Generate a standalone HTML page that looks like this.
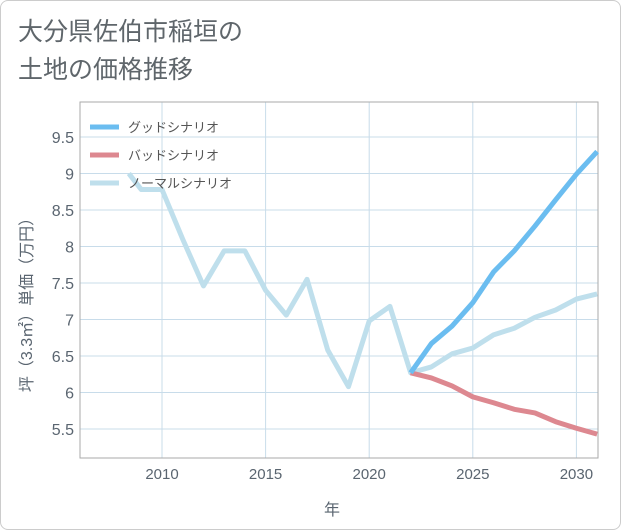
<!DOCTYPE html>
<html><head><meta charset="utf-8"><style>
body{margin:0;background:#fff;}
#card{position:absolute;left:0;top:0;width:619px;height:528px;border:1px solid #ccc;border-radius:8px;background:#fff;overflow:hidden;font-family:"Liberation Sans","Noto Sans CJK JP",sans-serif;}
#title{position:absolute;left:17px;top:12px;font-size:25px;line-height:38px;color:#5f666b;font-family:"Liberation Sans","Noto Sans CJK JP",sans-serif;}
</style></head><body>
<div id="card">
<div id="title">大分県佐伯市稲垣の<br>土地の価格推移</div>
<svg id="chart" width="621" height="530" style="position:absolute;left:0;top:0"></svg>
</div>
<script>
const normalYears=[2008.4,2009,2010,2011,2012,2013,2014,2015,2016,2017,2018,2019,2020,2021,2022,2023,2024,2025,2026,2027,2028,2029,2030,2031];
const normalValues=[9.0,8.78,8.78,8.1,7.46,7.94,7.94,7.4,7.06,7.55,6.58,6.08,6.98,7.18,6.27,6.35,6.53,6.61,6.79,6.88,7.03,7.13,7.28,7.35];
const futureYears=[2022,2023,2024,2025,2026,2027,2028,2029,2030,2031];
const goodValues=[6.27,6.67,6.91,7.23,7.65,7.94,8.28,8.64,8.99,9.3];
const badValues=[6.27,6.2,6.09,5.94,5.86,5.77,5.72,5.6,5.51,5.43];
const xTicks=[2010,2015,2020,2025,2030];
const yTicks=[5.5,6,6.5,7,7.5,8,8.5,9,9.5];
const L=79,R=597,T=101,B=457;
const xS=y=>161+(y-2010)*20.72;
const yS=v=>136+(9.5-v)*73;
const NS='http://www.w3.org/2000/svg';
const svg=document.getElementById('chart');
function mk(t,a){const e=document.createElementNS(NS,t);for(const k in a)e.setAttribute(k,a[k]);svg.appendChild(e);return e;}
let e;
xTicks.forEach(t=>{e=mk('line',{x1:xS(t),x2:xS(t),y1:T,y2:B,stroke:'#c8dcea','stroke-width':1});


e=mk('text',{x:xS(t),y:478,'text-anchor':'middle','font-size':15,fill:'#5a6570'});e.textContent=t;

});
yTicks.forEach(t=>{e=mk('line',{x1:L,x2:R,y1:yS(t),y2:yS(t),stroke:'#c8dcea','stroke-width':1});


e=mk('text',{x:73,y:yS(t)+6,'text-anchor':'end','font-size':16,fill:'#5a6570'});e.textContent=t;

});
e=mk('rect',{x:L,y:T,width:R-L,height:B-T,fill:'none',stroke:'#aaa','stroke-width':1});


function line(xs,vs,c,n){const d=xs.map((x,i)=>(i?'L':'M')+xS(x)+','+yS(vs[i])).join('');
e=mk('path',{d:d,fill:'none',stroke:c,'stroke-width':5,'stroke-linejoin':'round'});

}
line(normalYears,normalValues,'#bfdfec','normal-scenario-line');
line(futureYears,badValues,'#dd8890','bad-scenario-line');
line(futureYears,goodValues,'#6bbdf0','good-scenario-line');
const legNames=['グッドシナリオ','バッドシナリオ','ノーマルシナリオ'];
const legColors=['#6bbdf0','#dd8890','#bfdfec'];
legNames.forEach((n,i)=>{const y=126+i*28;
e=mk('line',{x1:89,x2:118,y1:y,y2:y,stroke:legColors[i],'stroke-width':5});


e=mk('text',{x:127,y:y+5,'font-size':13,fill:'#555'});e.textContent=n;

});
e=mk('text',{x:331,y:514,'text-anchor':'middle','font-size':16,fill:'#5a6570'});e.textContent='年';


e=mk('text',{x:0,y:0,'text-anchor':'middle','font-size':16,fill:'#5a6570',transform:'translate(31,300) rotate(-90)'});e.textContent='坪（3.3㎡）単価（万円）';


</script>
</body></html>
